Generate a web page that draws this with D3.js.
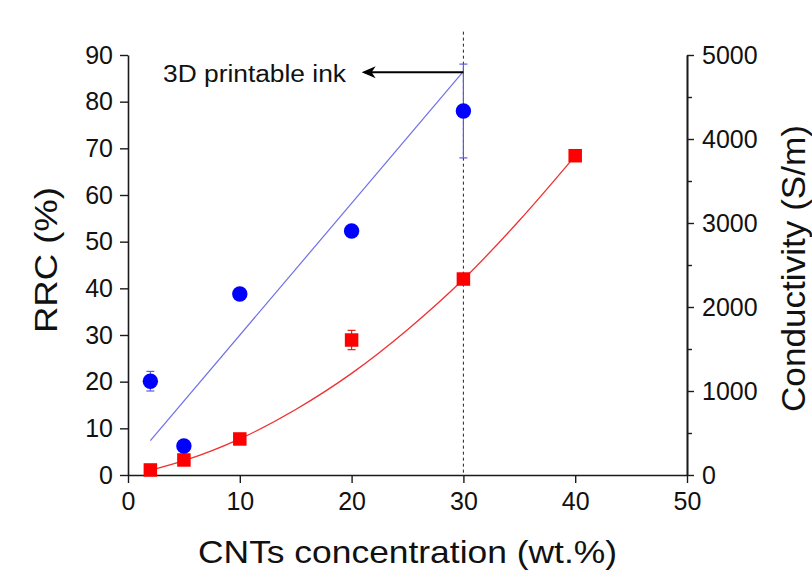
<!DOCTYPE html>
<html>
<head>
<meta charset="utf-8">
<script src="https://cdn.jsdelivr.net/npm/d3@7"></script>
<style>
  html, body { margin: 0; padding: 0; background: #fff; }
  svg text { font-family: "Liberation Sans", Arial, sans-serif; fill: #111; }
</style>
</head>
<body>
<svg id="chart" width="812" height="581"></svg>
<script>
// ---- data ----
const concentration = [2, 5, 10, 20, 30];
const rrc = [20.1, 6.2, 38.8, 52.3, 78.0];
const rrcErr = [2.1, 0, 0, 0, 10.05];

const condConcentration = [2, 5, 10, 20, 30, 40];
const conductivity = [60, 179, 429, 1607, 2333, 3801];
const condErr = [0, 0, 0, 115, 0, 0];

// fitted lines as drawn in the figure
const rrcFitX = [2, 30];
const rrcFitY = [7.35, 86.5];
const condFitX = [2, 5, 10, 15, 20, 25, 30, 35, 40];
const condFitY = [55, 170, 430, 780, 1210, 1730, 2330, 3030, 3800];

// annotation
const inkX = 30;
const inkTop = 95;
const arrowY = 86.3;
const arrowTipX = 20.9;
const annotationText = "3D printable ink";

const xTicks = [0, 10, 20, 30, 40, 50];
const leftTicks = [0, 10, 20, 30, 40, 50, 60, 70, 80, 90];
const rightTicks = [0, 1000, 2000, 3000, 4000, 5000];
const rightMinor = [500, 1500, 2500, 3500, 4500];

const xTitle = "CNTs concentration (wt.%)";
const leftTitle = "RRC (%)";
const rightTitle = "Conductivity (S/m)";

// ---- scales ----
const svg = d3.select("#chart");
const x = d3.scaleLinear().domain([0, 50]).range([128, 687]);
const yL = d3.scaleLinear().domain([0, 90]).range([475, 55]);
const yR = d3.scaleLinear().domain([0, 5000]).range([475, 55]);

const axisColor = "#1a1a1a";
function styleAxis(g) {
  g.selectAll("path.domain").attr("stroke", axisColor).attr("stroke-width", 1.6);
  g.selectAll(".tick line").attr("stroke", axisColor).attr("stroke-width", 1.4);
  g.selectAll("text").attr("font-size", 25).attr("fill", "#111")
    .attr("font-family", '"Liberation Sans", Arial, sans-serif');
}

// bottom axis
svg.append("g").attr("transform", `translate(0,${yL(0)})`)
  .call(d3.axisBottom(x).tickValues(xTicks).tickSize(8).tickPadding(9).tickSizeOuter(0))
  .call(styleAxis);

// left axis
svg.append("g").attr("transform", `translate(${x(0)},0)`)
  .call(d3.axisLeft(yL).tickValues(leftTicks).tickSize(8).tickPadding(7).tickSizeOuter(0))
  .call(styleAxis);

// right axis minor
svg.append("g").attr("transform", `translate(${x(50)},0)`)
  .call(d3.axisRight(yR).tickValues(rightMinor).tickSize(5).tickFormat("").tickSizeOuter(0))
  .call(styleAxis);
// right axis
svg.append("g").attr("transform", `translate(${x(50)},0)`)
  .call(d3.axisRight(yR).tickValues(rightTicks).tickFormat(d3.format("d"))
    .tickSize(7).tickPadding(8).tickSizeOuter(0))
  .call(styleAxis);

// dashed vertical line
svg.append("line")
  .attr("x1", x(inkX)).attr("x2", x(inkX))
  .attr("y1", yL(inkTop)).attr("y2", yL(0))
  .attr("stroke", "#222").attr("stroke-width", 1)
  .attr("stroke-dasharray", "3,3");

// red fit curve
const condLine = d3.line().x((d, i) => x(condFitX[i])).y(d => yR(d)).curve(d3.curveMonotoneX);
svg.append("path").datum(condFitY).attr("d", condLine)
  .attr("fill", "none").attr("stroke", "#f03030").attr("stroke-width", 1.3);

// blue fit line
const rrcLine = d3.line().x((d, i) => x(rrcFitX[i])).y(d => yL(d));
svg.append("path").datum(rrcFitY).attr("d", rrcLine)
  .attr("fill", "none").attr("stroke", "#6f6fe8").attr("stroke-width", 1.2);

// error bars
function errBars(xs, ys, errs, ys_scale, color) {
  const g = svg.append("g").attr("stroke", color).attr("stroke-width", 1.2);
  xs.forEach((xv, i) => {
    if (!errs[i]) return;
    const cx = x(xv);
    const t = ys_scale(ys[i] + errs[i]), b = ys_scale(ys[i] - errs[i]);
    g.append("line").attr("x1", cx).attr("x2", cx).attr("y1", t).attr("y2", b);
    g.append("line").attr("x1", cx - 4).attr("x2", cx + 4).attr("y1", t).attr("y2", t);
    g.append("line").attr("x1", cx - 4).attr("x2", cx + 4).attr("y1", b).attr("y2", b);
  });
}
errBars(concentration, rrc, rrcErr, yL, "#5b5be8");
errBars(condConcentration, conductivity, condErr, yR, "#e02020");

// red squares
const sq = 13.5;
svg.append("g").selectAll("rect").data(conductivity).join("rect")
  .attr("x", (d, i) => x(condConcentration[i]) - sq / 2)
  .attr("y", d => yR(d) - sq / 2)
  .attr("width", sq).attr("height", sq)
  .attr("fill", "#ff0000");

// blue circles
svg.append("g").selectAll("circle").data(rrc).join("circle")
  .attr("cx", (d, i) => x(concentration[i]))
  .attr("cy", d => yL(d))
  .attr("r", 7.7)
  .attr("fill", "#0000ff");

// arrow annotation
svg.append("line")
  .attr("x1", x(inkX)).attr("x2", x(arrowTipX) + 3)
  .attr("y1", yL(arrowY)).attr("y2", yL(arrowY))
  .attr("stroke", "#000").attr("stroke-width", 2);
svg.append("path")
  .attr("d", `M${x(arrowTipX)},${yL(arrowY)} l14,-6 l-4,6 l4,6 Z`)
  .attr("fill", "#000");
svg.append("text")
  .attr("x", 163).attr("y", yL(arrowY) + 10)
  .attr("font-size", 23).attr("textLength", 183).attr("lengthAdjust", "spacingAndGlyphs")
  .text(annotationText);

// axis titles
svg.append("text")
  .attr("x", 407.5).attr("y", 563).attr("text-anchor", "middle")
  .attr("font-size", 32).attr("textLength", 419).attr("lengthAdjust", "spacingAndGlyphs")
  .text(xTitle);
svg.append("text")
  .attr("transform", "translate(57,260) rotate(-90)").attr("text-anchor", "middle")
  .attr("font-size", 31).attr("textLength", 146).attr("lengthAdjust", "spacingAndGlyphs")
  .text(leftTitle);
svg.append("text")
  .attr("transform", "translate(805,268.5) rotate(-90)").attr("text-anchor", "middle")
  .attr("font-size", 34).attr("textLength", 287).attr("lengthAdjust", "spacingAndGlyphs")
  .text(rightTitle);
</script>
</body>
</html>
